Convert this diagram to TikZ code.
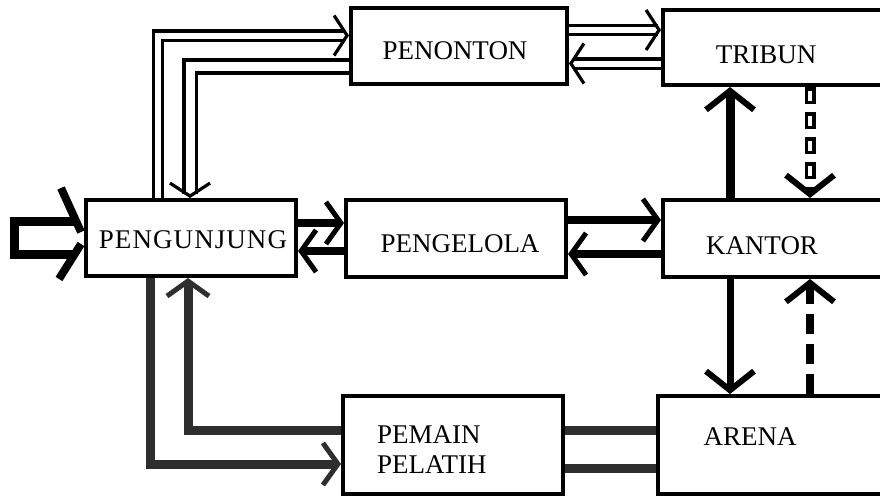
\documentclass[tikz,border=0pt]{standalone}
\usepackage{fontspec}
\setmainfont{Liberation Serif}
\newfontfamily\widefont[LetterSpace=4]{Liberation Serif}
\usetikzlibrary{arrows.meta,calc}

\begin{document}
\begin{tikzpicture}[x=1pt,y=-1pt,
  box/.style={draw, line width=4pt, rectangle, inner sep=0pt},
  lbl/.style={font=\fontsize{27}{32}\selectfont, inner sep=0pt, anchor=base},
  pipe/.style={double, line width=3.2pt, double distance=6pt, line join=miter},
  pipewide/.style={double, line width=3.6pt, double distance=9pt, line join=miter},
  heavy/.style={line width=8pt, line join=miter},
  grainy/.style={line width=9pt, black!82, line join=miter},
  tipS/.style={-{Straight Barb[length=13pt,width=40pt,line width=3.2pt]}},
  tipM/.style={-{Straight Barb[length=15pt,width=42pt,line width=5pt]}},
  tipB/.style={-{Straight Barb[length=19pt,width=48pt,line width=6pt]}},
  hollowdash/.style={line width=11pt, dash pattern=on 17pt off 8pt,
    postaction={draw=white, line width=4pt, dash pattern=on 10pt off 15pt,
      dash phase=21.5pt, arrows=-, shorten >=20pt}},
  soliddash/.style={line width=8pt, dash pattern=on 20pt off 10pt}
]
\useasboundingbox (0,0) rectangle (880,498);
\clip (0,0) rectangle (880,498);

% boxes
\node[box, minimum width=216pt, minimum height=76pt] (pnt) at (459,46) {};
\node[box, minimum width=242pt, minimum height=75pt] (trb) at (784,47.5) {};
\node[box, minimum width=210pt, minimum height=76pt] (pgj) at (191,238) {};
\node[box, minimum width=220pt, minimum height=77pt] (pgl) at (456,238.5) {};
\node[box, minimum width=242pt, minimum height=77pt] (knt) at (784,238.5) {};
\node[box, minimum width=220pt, minimum height=98pt] (pmn) at (453,445) {};
\node[box, minimum width=247pt, minimum height=98pt] (arn) at (781.5,445) {};

% labels
\node[lbl] (tpnt) at (455,59) {PENONTON};
\node[lbl] (ttrb) at (766,63) {TRIBUN};
\node[lbl, font=\widefont\fontsize{27}{32}\selectfont] (tpgj) at (193,248) {PENGUNJUNG};
\node[lbl] (tpgl) at (460,252) {PENGELOLA};
\node[lbl] (tknt) at (762,254) {KANTOR};
\node[lbl, anchor=base west] (tpm1) at (377,443) {PEMAIN};
\node[lbl, anchor=base west] (tpm2) at (377,473) {PELATIH};
\node[lbl] (tarn) at (750,445) {ARENA};

% routing lines
\coordinate (xa) at (158,0);
\coordinate (xb) at (190,0);
\coordinate (ya) at (0,35.5);
\coordinate (yb) at (0,66.5);
\coordinate (yc) at (0,30);
\coordinate (yd) at (0,63.5);
\coordinate (ye) at (0,223);
\coordinate (yf) at (0,251);
\coordinate (yg) at (0,220);
\coordinate (yh) at (0,254);
\coordinate (xc) at (730,0);
\coordinate (xd) at (810,0);
\coordinate (xe) at (150,0);
\coordinate (xf) at (188,0);
\coordinate (yi) at (0,464);
\coordinate (yj) at (0,430);
\coordinate (yk) at (0,468);

% entry arrow into PENGUNJUNG
\draw[line width=9pt, line join=miter]
  ($(pgj.west)+(-8,-16.5)$) -- ($(pgj.west)+(-69.5,-16.5)$)
  -- ($(pgj.west)+(-69.5,16)$) -- ($(pgj.west)+(-8,16)$);
\draw[line width=8pt] ($(pgj.west)+(-23,-50)$) -- ($(pgj.west)+(-3,-6)$);
\draw[line width=8pt] ($(pgj.west)+(-3,6)$) -- ($(pgj.west)+(-25,41)$);

% PENGUNJUNG <-> PENONTON
\draw[pipe, tipS] (pgj.north -| xa) |- (pnt.west |- ya);
\draw[pipewide, tipS] (pnt.west |- yb) -| (pgj.north -| xb);

% PENONTON <-> TRIBUN
\draw[pipe, tipS] (pnt.east |- yc) -- (trb.west |- yc);
\draw[pipe, tipS] (trb.west |- yd) -- (pnt.east |- yd);

% PENGUNJUNG <-> PENGELOLA <-> KANTOR
\draw[heavy, tipM] (pgj.east |- ye) -- (pgl.west |- ye);
\draw[heavy, tipM] (pgl.west |- yf) -- (pgj.east |- yf);
\draw[heavy, tipM] (pgl.east |- yg) -- (knt.west |- yg);
\draw[heavy, tipM] (knt.west |- yh) -- (pgl.east |- yh);

% KANTOR <-> TRIBUN
\draw[line width=9pt, tipB] (knt.north -| xc) -- (trb.south -| xc);
\draw[hollowdash, tipB] (trb.south -| xd) -- (knt.north -| xd);

% KANTOR <-> ARENA
\draw[line width=7pt, tipB] (knt.south -| xc) -- (arn.north -| xc);
\draw[soliddash, tipB] (arn.north -| xd) -- (knt.south -| xd);

% PENGUNJUNG <-> PEMAIN PELATIH
\draw[grainy, tipM] (pgj.south -| xe) |- (pmn.west |- yi);
\draw[grainy, tipM] (pmn.west |- yj) -| (pgj.south -| xf);

% PEMAIN PELATIH -- ARENA
\draw[grainy] (pmn.east |- yj) -- (arn.west |- yj);
\draw[grainy] (pmn.east |- yk) -- (arn.west |- yk);
\end{tikzpicture}
\end{document}
